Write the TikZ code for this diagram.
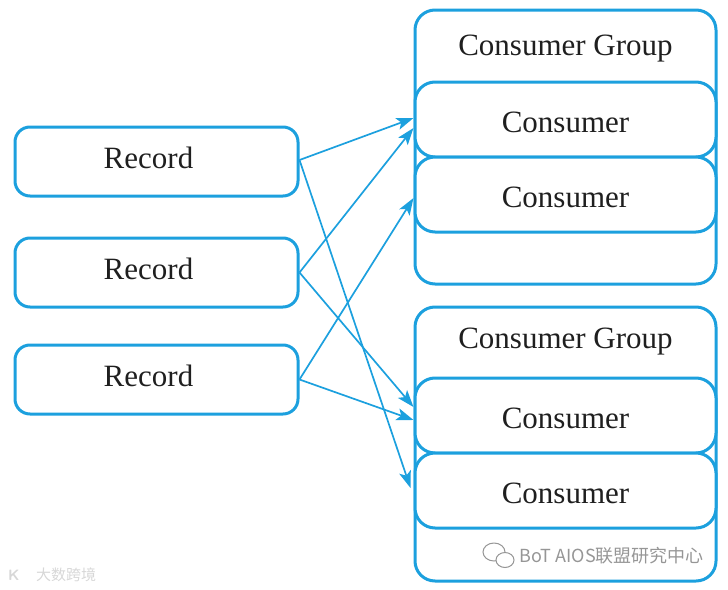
\documentclass[tikz,border=0pt]{standalone}
\usepackage{fontspec}
\setmainfont{Liberation Serif}
\newfontfamily\cjkwm{Noto Sans CJK SC}
\usetikzlibrary{arrows.meta}
\definecolor{kblue}{RGB}{28,160,222}
\definecolor{wmgray}{RGB}{150,150,150}
\definecolor{wmlight}{RGB}{215,215,215}
\begin{document}
\begin{tikzpicture}[x=1pt,y=-1pt,
  box/.style={draw=kblue,line width=3pt,rectangle,inner sep=0pt},
  lbl/.style={font=\fontsize{31}{37}\selectfont,text=black!88},
  recbox/.style={box,rounded corners=15pt,minimum width=283pt,minimum height=69pt,
    label={[lbl,xshift=-8pt,yshift=3.5pt]center:#1}},
  grpbox/.style={box,rounded corners=20pt,minimum width=301pt,minimum height=274pt},
  conbox/.style={box,rounded corners=20pt,minimum width=301pt,minimum height=75pt,fill=white,
    label={[lbl,yshift=-2.5pt]center:#1}},
  conn/.style={draw=kblue,line width=1.7pt,-{Stealth[length=17pt,width=12pt,inset=4pt]}}]
\useasboundingbox (0,0) rectangle (728,589);
% records
\node[recbox=Record] (r1) at (156.5,161.5) {};
\node[recbox=Record] (r2) at (156.5,272.5) {};
\node[recbox=Record] (r3) at (156.5,379.5) {};
% groups
\node[grpbox] (g1) at (565.5,147) {};
\node[grpbox] (g2) at (565.5,444) {};
\node[lbl] (g1t) at (565.5,49) {Consumer Group};
\node[lbl] (g2t) at (565.5,341.5) {Consumer Group};
\node[conbox=Consumer] (g1c1) at (565.5,119.5) {};
\node[conbox=Consumer] (g1c2) at (565.5,194.5) {};
\node[conbox=Consumer] (g2c1) at (565.5,415.5) {};
\node[conbox=Consumer] (g2c2) at (565.5,490.5) {};
% connectors
\draw[conn] ([yshift=1.5pt]r1.east) -- ([yshift=1.5pt]g1c1.west);
\draw[conn] ([yshift=1.5pt]r1.east) -- ([xshift=-3pt,yshift=2.5pt]g2c2.west);
\draw[conn] (r2.east) -- ([yshift=-8.5pt]g1c1.west);
\draw[conn] (r2.east) -- ([yshift=8.5pt]g2c1.west);
\draw[conn] (r3.east) -- ([yshift=-3.5pt]g1c2.west);
\draw[conn] (r3.east) -- ([yshift=-4.5pt]g2c1.west);
% watermarks
\draw[wmgray,line width=1pt] (494,552) ellipse (11pt and 9pt);
\draw[wmgray,line width=1pt,fill=white] (505,560) ellipse (9pt and 7.5pt);
\node[anchor=west,text=wmgray,font=\cjkwm\fontsize{18}{20}\selectfont,inner sep=0pt] (wm1) at (519,556) {BoT AIOS联盟研究中心};
\node[anchor=west,text=wmlight,font=\cjkwm\fontsize{15}{17}\selectfont,inner sep=0pt] (wm2) at (36,575) {大数跨境};
\node[anchor=west,text=wmlight,font=\sffamily\bfseries\fontsize{15}{17}\selectfont,inner sep=0pt] (wm3) at (8,575) {K};
\end{tikzpicture}
\end{document}
